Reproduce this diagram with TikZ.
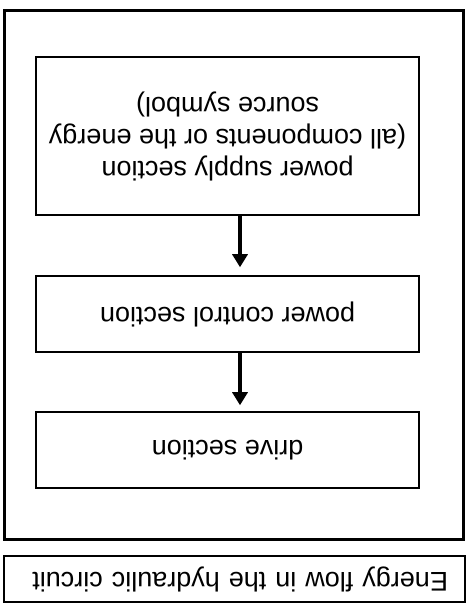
\documentclass[tikz,border=0pt]{standalone}
\usepackage{fontspec}
\setmainfont{Liberation Sans}
\usetikzlibrary{arrows.meta}

\tikzset{
  section/.style={draw, line width=1.5pt, minimum width=383pt, align=center,
    font=\fontsize{27}{32}\selectfont, inner sep=0pt},
  flow/.style={line width=4pt, -{Triangle[length=13pt,width=15pt]}}
}

\begin{document}
\begin{tikzpicture}[x=1pt, y=1pt]
\useasboundingbox (0,0) rectangle (469,608);

% the scan is upside down: draw it upright and turn it round
\begin{scope}[rotate around={180:(234.5,304)}, transform shape]
\node[draw, line width=2.5pt, minimum width=459pt, minimum height=529pt] (frame) at (235,275) {};

\node[section, minimum height=158pt] (supply) at (241.5,136)
  {power supply section\\(all components or the energy\\source symbol)};
\node[section, minimum height=76pt] (control) at (241.5,314) {power control section};
\node[section, minimum height=76pt] (drive) at (241.5,450) {drive section};

\draw[flow, shorten >=8pt] ([xshift=-12.5pt]supply.north) -- ([xshift=-12.5pt]control.south);
\draw[flow, shorten >=6pt] ([xshift=-12.5pt]control.north) -- ([xshift=-12.5pt]drive.south);

\node[draw, line width=2pt, minimum height=46pt, text width=427pt, inner xsep=17pt,
  align=left, font=\fontsize{27}{32}\selectfont] (caption) at (234.5,579)
  {Energy flow in the hydraulic circuit};
\end{scope}
\end{tikzpicture}
\end{document}
